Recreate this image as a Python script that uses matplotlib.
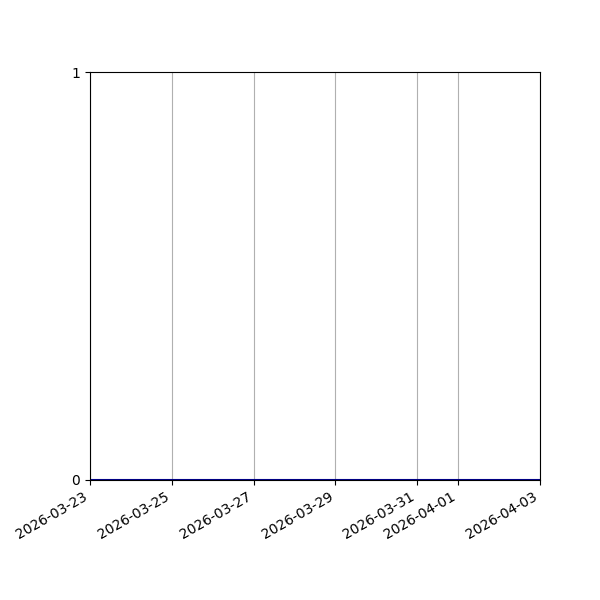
import matplotlib
matplotlib.use("Agg")
import matplotlib.pyplot as plt
import pandas as pd

dates = pd.date_range("2026-03-23", "2026-04-03", freq="D")
values = [0] * len(dates)

fig, ax = plt.subplots(figsize=(6, 6), dpi=100)
ax.plot(dates, values, color="darkblue", linewidth=1.5)
ax.set_xlim(dates[0], dates[-1])
ax.set_ylim(0, 1)
ax.set_yticks([0, 1])
ax.grid(True, axis="x", color="#b0b0b0")
fig.autofmt_xdate()
fig.subplots_adjust(left=0.15, right=0.9, top=0.88, bottom=0.2)
fig.savefig("out.png", dpi=100)
